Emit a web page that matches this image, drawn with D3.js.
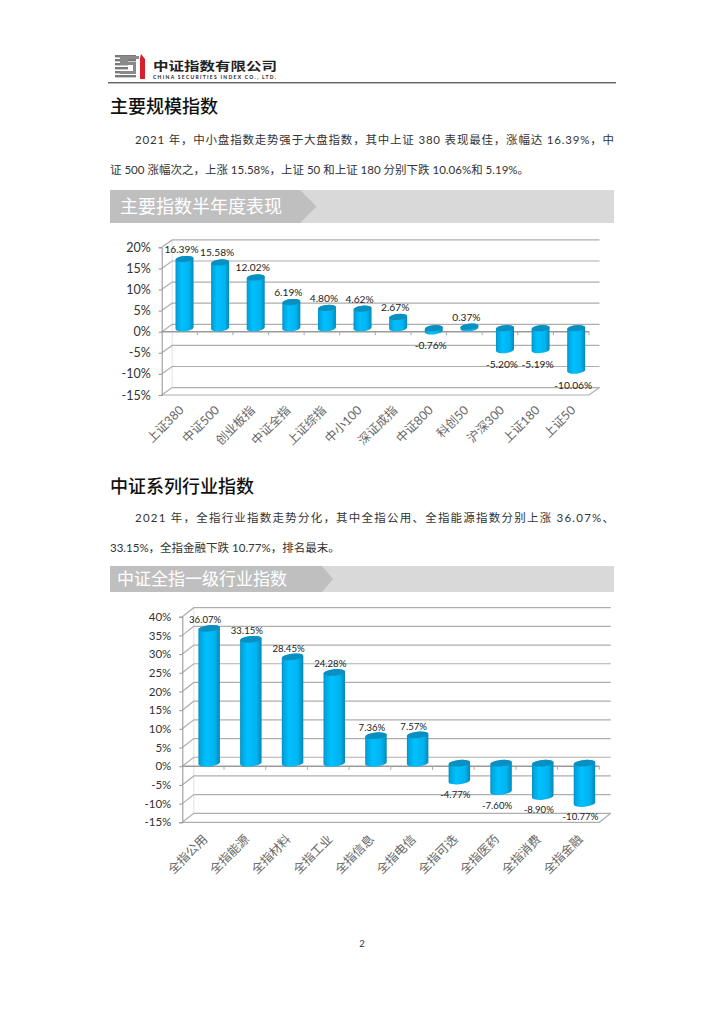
<!DOCTYPE html>
<html><head><meta charset="utf-8">
<script src="https://cdn.jsdelivr.net/npm/d3@7"></script>
<style>html,body{margin:0;padding:0;background:#fff}svg{display:block}
text{font-family:Lato,"Noto Sans CJK SC",sans-serif}</style></head>
<body><script>
// ---- data ----
const scaleCategories=["上证380","中证500","创业板指","中证全指","上证综指","中小100","深证成指","中证800","科创50","沪深300","上证180","上证50"];
const scaleValues=[16.39,15.58,12.02,6.19,4.80,4.62,2.67,-0.76,0.37,-5.20,-5.19,-10.06];
const scaleTicks=[-15,-10,-5,0,5,10,15,20];
const sectorCategories=["全指公用","全指能源","全指材料","全指工业","全指信息","全指电信","全指可选","全指医药","全指消费","全指金融"];
const sectorValues=[36.07,33.15,28.45,24.28,7.36,7.57,-4.77,-7.60,-8.90,-10.77];
const sectorTicks=[-15,-10,-5,0,5,10,15,20,25,30,35,40];

const svg=d3.select("body").append("svg").attr("width",724).attr("height",1024);
const defs=svg.append("defs");
const grad=defs.append("linearGradient").attr("id","cyl");
[[0,"#0a8fc0"],[.1,"#00a8e0"],[.35,"#00c0ff"],[.75,"#00b4f0"],[.92,"#0098cc"],[1,"#0a86b0"]].forEach(([o,c])=>grad.append("stop").attr("offset",o).attr("stop-color",c));

// ---- page header ----
const logo=svg.append("g");
[55,59,63,67,71,75].forEach((y,i)=>logo.append("rect").attr("x",115).attr("y",y).attr("width",i>1&&i<4?13:21).attr("height",2.4).attr("fill","#7a7a7a"));
logo.append("path").attr("d","M120 56H139V59H128V62H136V74H120V71H133V65H120Z").attr("fill","#8a8a8a");
logo.append("path").attr("d","M140 58L141 54L145 59V79H140Z").attr("fill","#d7202c");
logo.append("text").attr("transform","translate(153,70.5) scale(1.27,1)").attr("font-size",12.2).attr("font-weight",700).attr("fill","#222").text("中证指数有限公司");
logo.append("text").attr("x",153).attr("y",79).attr("font-size",5).attr("font-weight",700).attr("fill","#222").attr("textLength",123).text("CHINA SECURITIES INDEX CO., LTD.");
svg.append("line").attr("x1",108).attr("x2",616).attr("y1",82.8).attr("y2",82.8).attr("stroke","#222").attr("stroke-width",1);

function heading(txt,y){svg.append("text").attr("x",110).attr("y",y).attr("font-size",18).attr("font-weight",500).attr("fill","#111").text(txt);}
function para(txt,x,y,x2){svg.append("text").attr("x",x).attr("y",y).attr("font-size",11.5).attr("fill","#333").attr("textLength",x2?x2-x:null).attr("lengthAdjust","spacing").text(txt);}
function banner(txt,y,h,ax,tip,tx,fs){
  svg.append("rect").attr("x",110).attr("y",y).attr("width",504).attr("height",h).attr("fill","#d9d9d9");
  svg.append("path").attr("d",`M110 ${y}H${ax}L${tip} ${y+h/2}L${ax} ${y+h}H110Z`).attr("fill","#bfbfbf");
  svg.append("text").attr("x",tx).attr("y",y+h/2+fs*.36).attr("font-size",fs).attr("fill","#fff").text(txt);
}
heading("主要规模指数",113);
para("2021 年，中小盘指数走势强于大盘指数，其中上证 380 表现最佳，涨幅达 16.39%，中",135,144,614);
para("证 500 涨幅次之，上涨 15.58%，上证 50 和上证 180 分别下跌 10.06%和 5.19%。",110,174);
banner("主要指数半年度表现",190,33,300,316.5,120,18);
heading("中证系列行业指数",492.5);
para("2021  年，全指行业指数走势分化，其中全指公用、全指能源指数分别上涨  36.07%、",135,522,614);
para("33.15%，全指金融下跌 10.77%，排名最末。",110,552);
banner("中证全指一级行业指数",566,26,322,333,117,17);
svg.append("text").attr("x",362).attr("y",946.5).attr("text-anchor","middle").attr("font-size",9.5).attr("fill","#333").text("2");

// ---- 3D cylinder column chart ----
function chart(o){
  const g=svg.append("g");
  const x=d3.scaleBand().domain(o.cats).range([o.x0,o.x1]);
  const y=d3.scaleLinear().domain([o.ticks[0],o.ticks[o.ticks.length-1]]).range([o.yBot,o.yTop]);
  const gridCol="#aeaeae";
  // back wall left edge
  g.append("line").attr("x1",o.x0+o.dx).attr("x2",o.x0+o.dx).attr("y1",y.range()[1]+o.dy).attr("y2",y.range()[0]+o.dy).attr("stroke","#e2e2e2");
  // walls
  g.selectAll("path.grid").data(o.ticks).join("path").attr("class","grid").attr("fill","none")
    .attr("stroke",gridCol).attr("stroke-width",1.2)
    .attr("d",t=>`M${o.x0} ${y(t)}L${o.x0+o.dx} ${y(t)+o.dy}H${o.x1+o.dx}`);
  // floor
  const fl=y(o.ticks[0]);
  g.append("path").attr("fill","none").attr("stroke",gridCol).attr("stroke-width",1.2)
    .attr("d",`M${o.x0} ${fl}H${o.x1}L${o.x1+o.dx} ${fl+o.dy}`);
  // y axis
  const ax=g.append("g").attr("transform",`translate(${o.x0},0)`)
    .call(d3.axisLeft(y).tickValues(o.ticks).tickFormat(d=>d+"%").tickSize(3).tickPadding(o.tickPad));
  ax.selectAll("path,line").attr("stroke","#9a9a9a").attr("stroke-width",1.1);
  ax.selectAll("text").attr("font-size",o.tickFs).attr("fill","#333").style("font-family",'Lato,"Noto Sans CJK SC",sans-serif');
  // zero line and category ticks
  g.append("line").attr("x1",o.x0).attr("x2",o.x1).attr("y1",y(0)).attr("y2",y(0)).attr("stroke","#9a9a9a").attr("stroke-width",1.5);
  g.selectAll("line.ct").data(o.cats).join("line").attr("class","ct")
    .attr("x1",c=>x(c)+x.step()).attr("x2",c=>x(c)+x.step()).attr("y1",y(0)).attr("y2",y(0)+3.5).attr("stroke","#a8a8a8");
  // cylinders
  const rot=-6, t=Math.sin(-rot*Math.PI/180)*o.barW/2, base=y(0)-o.baseLift;
  const px=y.invert(0)-y.invert(1); // value per pixel
  const vals=o.cats.map((c,i)=>({c,v:o.vals[i]}));
  const cx=d=>x(d.c)+x.step()/2+o.barShift;
  const up=d=>Math.min(base,base-d.v/px);
  const lo=d=>Math.max(base,base-d.v/px);
  const r=o.barW/2;
  const bars=g.selectAll("g.bar").data(vals).join("g").attr("class","bar");
  bars.append("path").attr("fill","url(#cyl)").attr("d",d=>{
    const c=cx(d),u=up(d),l=lo(d);
    return `M${c-r} ${u+t}L${c-r} ${l+t}A${r} ${o.ry} ${rot} 0 0 ${c+r} ${l-t}L${c+r} ${u-t}A${r} ${o.ry} ${rot} 0 0 ${c-r} ${u+t}Z`;
  });
  bars.append("ellipse").attr("rx",r).attr("ry",o.ry).attr("fill","#0a8fc0")
    .attr("transform",d=>`translate(${cx(d)},${up(d)}) rotate(${rot})`);
  // labels
  g.selectAll("text.val").data(vals).join("text").attr("class","val").attr("text-anchor","middle")
    .attr("font-size",o.lblFs).attr("fill","#222")
    .attr("x",d=>x(d.c)+x.step()/2+2)
    .attr("y",d=>d.v>=0?up(d)-o.lblUp:lo(d)+o.lblDown)
    .text(d=>d.v.toFixed(2)+"%");
  // categories
  g.selectAll("text.cat").data(o.cats).join("text").attr("class","cat").attr("text-anchor","end")
    .attr("font-size",o.catFs).attr("fill","#666")
    .attr("transform",c=>`translate(${x(c)+x.step()/2+o.catShift},${o.catY}) rotate(-45)`).text(c=>c);
}
chart({cats:scaleCategories,vals:scaleValues,ticks:scaleTicks,x0:161.7,x1:589,yTop:247.3,yBot:395,dx:10.5,dy:-7.4,
  barW:18,ry:3,barShift:5,baseLift:3.5,tickPad:8,tickFs:12.5,lblFs:10.2,lblUp:6,lblDown:18,catFs:12.3,catShift:5,catY:411});
chart({cats:sectorCategories,vals:sectorValues,ticks:sectorTicks,x0:182.3,x1:599.3,yTop:616.7,yBot:822.3,dx:11.5,dy:-9,
  barW:21.5,ry:3.2,barShift:6,baseLift:3,tickPad:8,tickFs:11.5,lblFs:9.6,lblUp:5,lblDown:17,catFs:12.3,catShift:5,catY:840});
</script></body></html>
